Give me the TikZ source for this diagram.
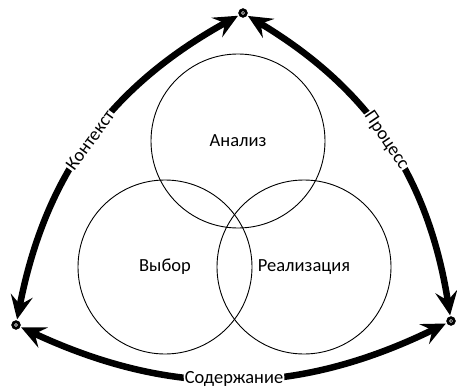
\documentclass[tikz,border=0pt]{standalone}
\usepackage{fontspec}
\setmainfont{Carlito}
\usetikzlibrary{arrows.meta, positioning}

\begin{document}
\begin{tikzpicture}[x=1pt, y=-1pt,
  ring/.style={draw, line width=0.9pt, circle, minimum size=174pt, inner sep=0pt},
  endpt/.style={draw, circle, fill=black, minimum size=9pt, inner sep=0pt},
  flow/.style={line width=6.5pt, {Stealth[length=24pt, width=22pt, inset=9pt]}-{Stealth[length=24pt, width=22pt, inset=9pt]}, shorten <=1pt, shorten >=1pt},
  lbl/.style={fill=white, inner sep=1pt, midway, sloped},
  every node/.append style={font=\fontsize{18.5}{21}\selectfont}]
\useasboundingbox (0,0) rectangle (457,390);

% three circles
\node[ring] (analiz) at (238,141) {Анализ};
\node[ring] (vybor) at (165,267) {Выбор};
\node[ring] (real) at (304,267) {Реализация};

% end points
\node[endpt] (top) at (243,13) {};
\node[endpt] (left) at (16,325) {};
\node[endpt] (right) at (451,321) {};
\foreach \n in {top,left,right} {
    \draw[white, line width=0.5pt] (\n) circle (1.6pt);
}

% arcs
\draw[flow] (top) to[bend right=25] node[lbl] {Контекст} (left);
\draw[flow] (top) to[bend left=25] node[lbl] {Процесс} (right);
\draw[flow] (left) to[bend right=25.5] node[lbl] {Содержание} (right);
\end{tikzpicture}
\end{document}
